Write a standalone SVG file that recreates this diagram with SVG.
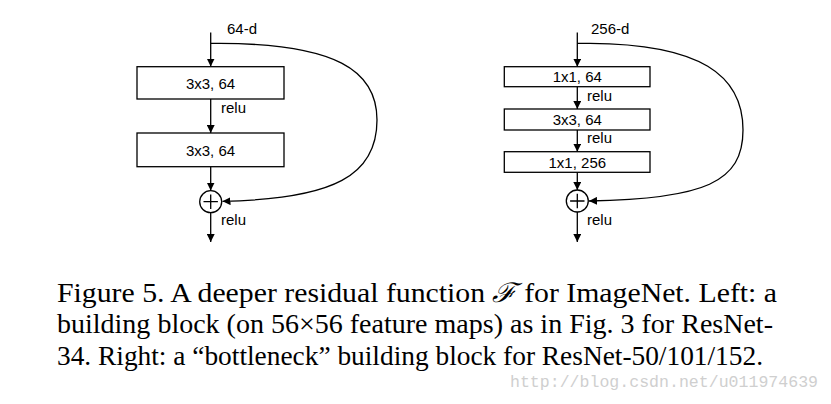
<svg xmlns="http://www.w3.org/2000/svg" width="831" height="404" viewBox="0 0 831 404">
<style>
.box{fill:#fff;stroke:#000;stroke-width:1.3}
.ln{fill:none;stroke:#000;stroke-width:1.3}
.lbl{font-family:"Liberation Sans",Arial,sans-serif;font-size:15px;fill:#000}
.bt{text-anchor:middle}
.cap{font-family:"Liberation Serif","Times New Roman",serif;font-size:27px;fill:#000}
.wm{font-family:"Liberation Mono","DejaVu Sans Mono",monospace;font-size:16.5px;fill:#cfcfcf}
</style>
<defs>
<marker id="ah" viewBox="0 0 10 10" refX="10" refY="5" markerWidth="8" markerHeight="8" markerUnits="userSpaceOnUse" orient="auto">
<path d="M0,0 L10,5 L0,10 z" fill="#000"/>
</marker>
</defs>
<rect width="831" height="404" fill="#fff"/>
<g id="connectors">
<line class="ln" x1="210.7" y1="32.5" x2="210.7" y2="66.5" marker-end="url(#ah)"/>
<line class="ln" x1="210.7" y1="99" x2="210.7" y2="133" marker-end="url(#ah)"/>
<line class="ln" x1="210.7" y1="167" x2="210.7" y2="190.5" marker-end="url(#ah)"/>
<line class="ln" x1="210.7" y1="212.7" x2="210.7" y2="242" marker-end="url(#ah)"/>
<path class="ln" d="M210.7,43.3 L220,43.3 C335,44 377,70 377,120 C377,175 335,199 222.5,201.3" marker-end="url(#ah)"/>
<line class="ln" x1="577.3" y1="32.5" x2="577.3" y2="66.7" marker-end="url(#ah)"/>
<line class="ln" x1="577.3" y1="86.7" x2="577.3" y2="109" marker-end="url(#ah)"/>
<line class="ln" x1="577.3" y1="130" x2="577.3" y2="151.7" marker-end="url(#ah)"/>
<line class="ln" x1="577.3" y1="172.3" x2="577.3" y2="190" marker-end="url(#ah)"/>
<line class="ln" x1="577.3" y1="212" x2="577.3" y2="242" marker-end="url(#ah)"/>
<path class="ln" d="M577.3,43.3 L590,43.3 C700,44 743,75 743,130 C743,182 705,199 589,201" marker-end="url(#ah)"/>
</g>
<g id="left-input"><text class="lbl" x="227" y="33.5">64-d</text></g>
<g id="left-conv1"><rect class="box" x="137" y="66.7" width="147" height="32.3"/><text class="lbl bt" x="210.5" y="88.5">3x3, 64</text></g>
<g id="left-relu1"><text class="lbl" x="221" y="113.3">relu</text></g>
<g id="left-conv2"><rect class="box" x="137" y="133" width="147" height="33.7"/><text class="lbl bt" x="210.5" y="155.5">3x3, 64</text></g>
<g id="left-add"><circle class="box" cx="210.7" cy="201.7" r="11"/><path class="ln" d="M203.5,201.7 H217.9 M210.7,194.5 V208.9"/></g>
<g id="left-relu2"><text class="lbl" x="221" y="225">relu</text></g>

<g id="right-input"><text class="lbl" x="591" y="33.5">256-d</text></g>
<g id="right-conv1"><rect class="box" x="504.3" y="66.7" width="145.7" height="20"/><text class="lbl bt" x="577.3" y="82.3">1x1, 64</text></g>
<g id="right-relu1"><text class="lbl" x="587" y="100.7">relu</text></g>
<g id="right-conv2"><rect class="box" x="504.3" y="109" width="145.7" height="21"/><text class="lbl bt" x="577.3" y="125">3x3, 64</text></g>
<g id="right-relu2"><text class="lbl" x="587" y="143.3">relu</text></g>
<g id="right-conv3"><rect class="box" x="504.3" y="151.7" width="145.7" height="20.6"/><text class="lbl bt" x="577.3" y="168">1x1, 256</text></g>
<g id="right-add"><circle class="box" cx="577.3" cy="201" r="11"/><path class="ln" d="M570.1,201 H584.5 M577.3,193.8 V208.2"/></g>
<g id="right-relu3"><text class="lbl" x="587" y="225">relu</text></g>

<g id="caption">
<text class="cap" x="57" y="301.7" textLength="720" lengthAdjust="spacingAndGlyphs">Figure 5. A deeper residual function <tspan font-family="DejaVu Serif,serif" font-style="italic">ℱ</tspan> for ImageNet.  Left:  a</text>
<text class="cap" x="57" y="333.3" textLength="716" lengthAdjust="spacingAndGlyphs">building block (on 56×56 feature maps) as in Fig. 3 for ResNet-</text>
<text class="cap" x="57" y="365" textLength="706" lengthAdjust="spacingAndGlyphs">34. Right: a “bottleneck” building block for ResNet-50/101/152.</text>
</g>
<text class="wm" x="510" y="387" textLength="308" lengthAdjust="spacingAndGlyphs">http://blog.csdn.net/u011974639</text>
</svg>
